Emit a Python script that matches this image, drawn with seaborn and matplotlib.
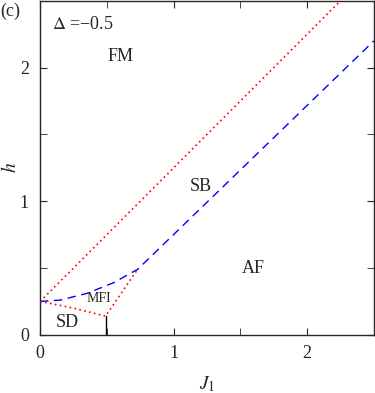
from matplotlib import pyplot as plt
import pandas as pd
import numpy as np
import seaborn as sns

sns.set_style('ticks')
plt.rcParams['font.family'] = ['Liberation Serif', 'DejaVu Serif']
plt.rcParams['mathtext.fontset'] = 'stix'

# phase boundaries (J1, h)
fm_j = [0.0, 2.25, 2.6]
fm_h = [0.25, 2.5, 2.85]

sb_j = [0.0, 0.15, 0.35, 0.55, 0.73, 2.5]
sb_h = [0.25, 0.26, 0.31, 0.39, 0.49, 2.2]

mfi_j = [0.0, 0.25, 0.49, 0.73]
mfi_h = [0.25, 0.20, 0.14, 0.49]

sd_j = [0.49, 0.49]
sd_h = [0.0, 0.14]

labels = ['FM', 'SB', 'AF', 'SD']
label_j = [0.6, 1.2, 1.6, 0.2]
label_h = [2.08, 1.11, 0.5, 0.09]

fig = plt.figure(figsize=(3.75, 3.93), dpi=100)
ax = fig.add_axes([0.107, 0.148, 0.89, 0.85])

dots = (0, (1, 2))
sns.lineplot(x=fm_j, y=fm_h, ax=ax, color='red', linestyle=dots, lw=1.2, sort=False, estimator=None)
sns.lineplot(x=sb_j, y=sb_h, ax=ax, color='blue', linestyle=(0, (6, 4)), lw=1.0, sort=False, estimator=None)
sns.lineplot(x=mfi_j, y=mfi_h, ax=ax, color='red', linestyle=dots, lw=1.2, sort=False, estimator=None)
sns.lineplot(x=sd_j, y=sd_h, ax=ax, color='black', lw=1.0, sort=False, estimator=None)

for t, x, y in zip(labels, label_j, label_h):
    ax.text(x, y, t, fontsize=13, ha='center', va='center')
ax.text(0.44, 0.27, 'MFI', fontsize=10, ha='center', va='center')
ax.text(0.09, 2.32, r'$\Delta$ =−0.5', fontsize=13, ha='left', va='center')
fig.text(0.0, 0.97, '(c)', fontsize=13, ha='left', va='center')

ax.set_xlim(0, 2.5)
ax.set_ylim(0, 2.5)
ax.set_xticks([0, 1, 2])
ax.set_yticks([0, 1, 2])
ax.set_xticks([0.5, 1.5], minor=True)
ax.set_yticks([0.5, 1.5], minor=True)
ax.tick_params(which='both', direction='in', top=True, right=True, labelsize=13)
ax.tick_params(which='major', length=5)
ax.tick_params(which='minor', length=5)
ax.tick_params(axis='y', pad=8)
ax.tick_params(axis='x', pad=7)
ax.set_xlabel(r'$J_1$', fontsize=14, labelpad=9)
ax.set_ylabel(r'$h$', fontsize=14, va='center')
ax.yaxis.set_label_coords(-0.09, 0.5)
for s in ax.spines.values():
    s.set_linewidth(1.0)

fig.savefig('out.png', dpi=100)
